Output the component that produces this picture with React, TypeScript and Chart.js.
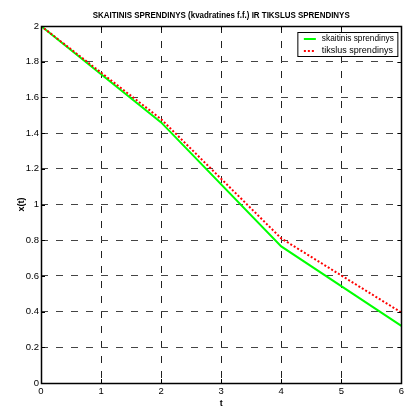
import React, { useEffect, useRef } from "react";
import { Chart, registerables } from "chart.js";

Chart.register(...registerables);

const chartTitle = "SKAITINIS SPRENDINYS (kvadratines f.f.) IR TIKSLUS SPRENDINYS";
const xAxisLabel = "t";
const yAxisLabel = "x(t)";
const tValues = [0, 2, 4, 6];
const numericLabel = "skaitinis sprendinys";
const numericValues = [2, 1.46, 0.765, 0.32];
const exactLabel = "tikslus sprendinys";
const exactValues = [2, 1.478, 0.81, 0.395];
const xMin = 0, xMax = 6, xStep = 1;
const yMin = 0, yMax = 2, yStep = 0.2;

const FONT = "Arial, 'Liberation Sans', Helvetica, sans-serif";

const matlabPlugin = {
  id: "matlabDecor",
  afterDatasetsDraw(chart: any) {
    const { ctx, chartArea } = chart;
    const { left, right, top, bottom } = chartArea;
    const xs = chart.scales.x;
    const ys = chart.scales.y;
    ctx.save();
    ctx.strokeStyle = "#000";
    ctx.lineWidth = 1;
    ctx.setLineDash([]);
    ctx.beginPath();
    const tl = 4;
    xs.ticks.forEach((tk: any) => {
      const px = Math.round(xs.getPixelForValue(tk.value)) + 0.5;
      ctx.moveTo(px, bottom);
      ctx.lineTo(px, bottom - tl);
      ctx.moveTo(px, top);
      ctx.lineTo(px, top + tl);
    });
    ys.ticks.forEach((tk: any) => {
      const py = Math.round(ys.getPixelForValue(tk.value)) + 0.5;
      ctx.moveTo(left, py);
      ctx.lineTo(left + tl, py);
      ctx.moveTo(right, py);
      ctx.lineTo(right - tl, py);
    });
    ctx.stroke();
    ctx.lineWidth = 1.5;
    ctx.strokeRect(Math.round(left) + 0.5, Math.round(top) + 0.5, Math.round(right - left), Math.round(bottom - top));
    ctx.restore();
  },
  afterDraw(chart: any) {
    const { ctx, chartArea } = chart;
    const { left, right, top } = chartArea;
    ctx.save();
    ctx.fillStyle = "#000";
    ctx.font = `bold 9.5px ${FONT}`;
    ctx.textAlign = "center";
    ctx.textBaseline = "middle";
    ctx.fillText(chartTitle, (left + right) / 2, 15, 257);

    const bx = right - 103.5;
    const by = top + 6.5;
    const bw = 100;
    const bh = 24;
    ctx.fillStyle = "#fff";
    ctx.fillRect(bx, by, bw, bh);
    ctx.strokeStyle = "#000";
    ctx.lineWidth = 1;
    ctx.setLineDash([]);
    ctx.strokeRect(bx, by, bw, bh);
    ctx.font = `9px ${FONT}`;
    ctx.textAlign = "left";
    ctx.textBaseline = "middle";
    chart.data.datasets.forEach((ds: any, i: number) => {
      const y = by + 6.5 + i * 12;
      ctx.beginPath();
      ctx.strokeStyle = ds.borderColor;
      ctx.lineWidth = ds.borderWidth;
      ctx.setLineDash(ds.borderDash || []);
      ctx.moveTo(bx + 6, y);
      ctx.lineTo(bx + 18, y);
      ctx.stroke();
      ctx.setLineDash([]);
      ctx.fillStyle = "#000";
      ctx.fillText(ds.label, bx + 24, y, 72);
    });
    ctx.restore();
  },
};

export default function App() {
  const ref = useRef<HTMLCanvasElement | null>(null);
  useEffect(() => {
    if (!ref.current) return;
    const chart = new Chart(ref.current, {
      type: "line",
      data: {
        datasets: [
          {
            label: numericLabel,
            data: tValues.map((t, i) => ({ x: t, y: numericValues[i] })),
            borderColor: "#00ff00",
            borderWidth: 2,
            pointRadius: 0,
            fill: false,
            tension: 0,
            order: 1,
          },
          {
            label: exactLabel,
            data: tValues.map((t, i) => ({ x: t, y: exactValues[i] })),
            borderColor: "#ff0000",
            borderWidth: 2,
            borderDash: [2, 2],
            pointRadius: 0,
            fill: false,
            tension: 0,
            order: 0,
          },
        ],
      },
      options: {
        responsive: false,
        animation: false,
        devicePixelRatio: 1,
        layout: { padding: { top: 26, right: 5, left: 0, bottom: 0 } },
        plugins: {
          legend: { display: false },
          title: { display: false },
          tooltip: { enabled: false },
        },
        scales: {
          x: {
            type: "linear",
            min: xMin,
            max: xMax,
            ticks: {
              stepSize: xStep,
              color: "#000",
              font: { family: FONT, size: 9.5 },
              padding: 3,
              maxRotation: 0,
              autoSkip: false,
            },
            grid: { color: "#222", lineWidth: 1, drawTicks: false },
            border: { display: false, dash: [7, 8] },
            title: {
              display: true,
              text: xAxisLabel,
              color: "#000",
              font: { family: FONT, size: 9, weight: "bold", lineHeight: 1 },
              padding: { top: 0, bottom: 0 },
            },
            afterFit(scale: any) {
              scale.height = 25;
            },
          },
          y: {
            type: "linear",
            min: yMin,
            max: yMax,
            ticks: {
              stepSize: yStep,
              color: "#000",
              font: { family: FONT, size: 9.5 },
              padding: 2,
              autoSkip: false,
              callback: (v: any) => String(Math.round(Number(v) * 10) / 10),
            },
            grid: { color: "#444", lineWidth: 1, drawTicks: false },
            border: { display: false, dash: [7, 8] },
            title: {
              display: true,
              text: yAxisLabel,
              color: "#000",
              font: { family: FONT, size: 9, weight: "bold", lineHeight: 1 },
              padding: { top: 17, bottom: 0 },
            },
            afterFit(scale: any) {
              scale.width = 41;
            },
          },
        },
      },
      plugins: [matlabPlugin],
    } as any);
    return () => chart.destroy();
  }, []);
  return (
    <div style={{ position: "fixed", left: 0, top: 0, width: 407, height: 408, background: "#fff" }}>
      <canvas ref={ref} width={407} height={408} style={{ display: "block" }} />
    </div>
  );
}
